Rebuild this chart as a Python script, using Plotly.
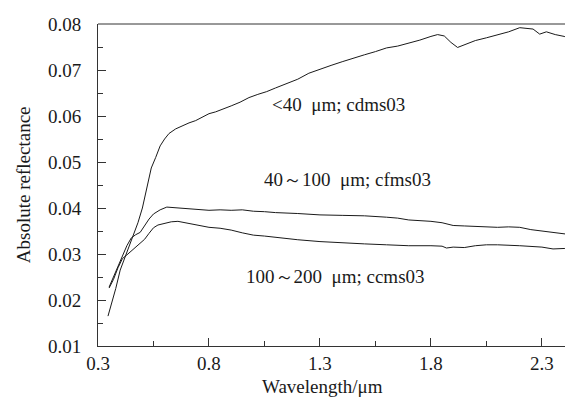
import plotly.graph_objects as go

# ---- data ----
w1 = [0.345, 0.36, 0.38, 0.40, 0.42, 0.44, 0.46, 0.48, 0.50, 0.52, 0.54, 0.56, 0.58, 0.60, 0.62,
      0.65, 0.68, 0.71, 0.74, 0.77, 0.80, 0.83, 0.86, 0.90, 0.94, 0.98, 1.02, 1.06, 1.10, 1.15,
      1.20, 1.25, 1.30, 1.35, 1.40, 1.45, 1.50, 1.55, 1.60, 1.65, 1.70, 1.75, 1.80, 1.83, 1.86,
      1.89, 1.92, 1.95, 2.00, 2.05, 2.10, 2.15, 2.20, 2.23, 2.26, 2.29, 2.32, 2.36, 2.40, 2.44, 2.48]
r1 = [0.0165, 0.0190, 0.0225, 0.0265, 0.0290, 0.0318, 0.0340, 0.0368, 0.0400, 0.0445, 0.0487,
      0.0510, 0.0535, 0.0550, 0.0562, 0.0572, 0.0579, 0.0585, 0.0590, 0.0597, 0.0605, 0.0609,
      0.0614, 0.0622, 0.0630, 0.0640, 0.0647, 0.0653, 0.0661, 0.0671, 0.0680, 0.0693, 0.0702,
      0.0710, 0.0718, 0.0726, 0.0733, 0.0740, 0.0748, 0.0752, 0.0758, 0.0765, 0.0773, 0.0777,
      0.0774, 0.0760, 0.0749, 0.0754, 0.0764, 0.0770, 0.0777, 0.0783, 0.0792, 0.0791, 0.0789,
      0.0778, 0.0783, 0.0777, 0.0773, 0.0766, 0.0762]

w2 = [0.35, 0.37, 0.39, 0.41, 0.43, 0.45, 0.47, 0.49, 0.51, 0.53, 0.55, 0.58, 0.61, 0.64, 0.67,
      0.70, 0.75, 0.80, 0.85, 0.90, 0.95, 1.00, 1.05, 1.10, 1.20, 1.30, 1.40, 1.50, 1.60, 1.65,
      1.70, 1.75, 1.80, 1.85, 1.90, 1.95, 2.00, 2.05, 2.10, 2.15, 2.20, 2.25, 2.30, 2.35, 2.40,
      2.45, 2.48]
r2 = [0.0228, 0.0250, 0.0275, 0.0298, 0.0318, 0.0335, 0.0342, 0.0347, 0.0362, 0.0376, 0.0387,
      0.0396, 0.0402, 0.0401, 0.0399, 0.0399, 0.0396, 0.0395, 0.0396, 0.0395, 0.0396, 0.0393,
      0.0392, 0.0390, 0.0388, 0.0385, 0.0384, 0.0383, 0.0380, 0.0378, 0.0374, 0.0373, 0.0371,
      0.0368, 0.0362, 0.0361, 0.0360, 0.0358, 0.0358, 0.0359, 0.0358, 0.0353, 0.0350, 0.0348,
      0.0344, 0.0341, 0.0339]

w3 = [0.35, 0.37, 0.39, 0.41, 0.43, 0.45, 0.47, 0.49, 0.51, 0.53, 0.55, 0.57, 0.60, 0.63, 0.66,
      0.70, 0.75, 0.80, 0.85, 0.90, 0.95, 1.00, 1.05, 1.10, 1.20, 1.30, 1.40, 1.50, 1.60, 1.70,
      1.80, 1.85, 1.87, 1.90, 1.95, 2.00, 2.05, 2.10, 2.20, 2.30, 2.35, 2.40, 2.48]
r3 = [0.0226, 0.0245, 0.0270, 0.0290, 0.0298, 0.0306, 0.0314, 0.0322, 0.0332, 0.0345, 0.0357,
      0.0363, 0.0366, 0.0370, 0.0371, 0.0367, 0.0362, 0.0358, 0.0356, 0.0352, 0.0346, 0.0341,
      0.0339, 0.0336, 0.0331, 0.0327, 0.0324, 0.0322, 0.0320, 0.0318, 0.0318, 0.0317, 0.0313,
      0.0315, 0.0314, 0.0318, 0.0320, 0.0320, 0.0318, 0.0315, 0.0311, 0.0312, 0.0311]

labels = ["<40\u00a0\u00a0μm; cdms03", "40～100\u00a0\u00a0μm; cfms03", "100～200\u00a0\u00a0μm; ccms03"]
label_x = [1.075, 1.039, 0.958]
label_y = [0.0624, 0.0461, 0.0252]

x_ticks = [0.3, 0.8, 1.3, 1.8, 2.3]
y_ticks = [0.01, 0.02, 0.03, 0.04, 0.05, 0.06, 0.07, 0.08]
x_title = "Wavelength/μm"
y_title = "Absolute reflectance"

FONT = "Times New Roman"
INK = "#1a1a1a"
FS = 19

fig = go.Figure()
for w, r in [(w1, r1), (w2, r2), (w3, r3)]:
    fig.add_trace(go.Scatter(x=w, y=r, mode="lines", line=dict(color=INK, width=1),
                             showlegend=False, hoverinfo="skip"))

for t, x, y in zip(labels, label_x, label_y):
    fig.add_annotation(x=x, y=y, text=t, showarrow=False, xanchor="left", yanchor="middle",
                       font=dict(family=FONT, size=FS, color=INK))

# axis titles
fig.add_annotation(xref="paper", yref="paper", x=0.465, y=-0.125, text=x_title, showarrow=False,
                   xanchor="center", yanchor="middle", font=dict(family=FONT, size=FS, color=INK))
fig.add_annotation(xref="paper", yref="paper", x=-0.155, y=0.5, text=y_title, showarrow=False,
                   textangle=-90, xanchor="center", yanchor="middle",
                   font=dict(family=FONT, size=FS, color=INK))

# top frame line
fig.add_shape(type="line", xref="paper", yref="paper", x0=0, x1=1, y0=1, y1=1,
              line=dict(color="#333", width=1))

fig.update_layout(
    width=573, height=402,
    margin=dict(l=90, r=0, t=16, b=64),
    plot_bgcolor="white", paper_bgcolor="white",
    font=dict(family=FONT, size=FS, color=INK),
    xaxis=dict(range=[0.3, 2.476], tickvals=x_ticks, ticktext=[str(v) for v in x_ticks],
               ticks="inside", ticklen=8, tickcolor="#333", tickwidth=1,
               minor=dict(dtick=0.25, tick0=0.3, ticks="inside", ticklen=5, tickcolor="#333"),
               showline=True, linecolor="#333", linewidth=1, showgrid=False, zeroline=False,
               ticklabelstandoff=0),
    yaxis=dict(range=[0.01, 0.08], tickvals=y_ticks, ticktext=[f"{v:.2f}" for v in y_ticks],
               ticks="inside", ticklen=8, tickcolor="#333", tickwidth=1,
               minor=dict(dtick=0.005, tick0=0.01, ticks="inside", ticklen=5, tickcolor="#333"),
               showline=True, linecolor="#333", linewidth=1, showgrid=False, zeroline=False,
               ticklabelstandoff=12),
)

fig.write_html("out.html")
